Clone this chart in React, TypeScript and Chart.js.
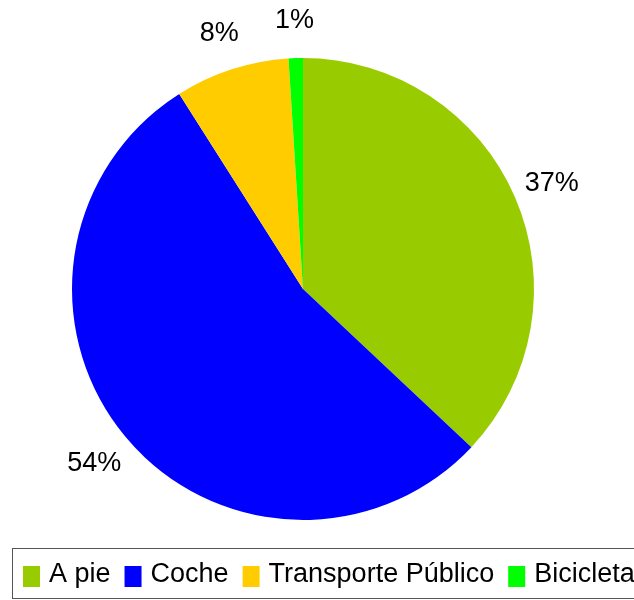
import React, { useEffect, useRef } from "react";
import { Chart, registerables } from "chart.js";

Chart.register(...registerables);

const categories = ["A pie", "Coche", "Transporte Público", "Bicicleta"];
const values = [37, 54, 8, 1];
const colors = ["#99cc00", "#0000ff", "#ffcc00", "#00ff00"];

const labelFont = '27px "Liberation Sans", Arial, sans-serif';
const legendFont = '27px "Liberation Sans", Arial, sans-serif';

const pctLabels = {
  id: "pctLabels",
  afterDatasetsDraw(chart: any) {
    const ctx = chart.ctx;
    const meta = chart.getDatasetMeta(0);
    const total = values.reduce((a, b) => a + b, 0);
    ctx.save();
    ctx.font = labelFont;
    ctx.fillStyle = "#000";
    ctx.textAlign = "center";
    ctx.textBaseline = "middle";
    meta.data.forEach((arc: any, i: number) => {
      const { x, y, startAngle, endAngle, outerRadius } = arc.getProps(
        ["x", "y", "startAngle", "endAngle", "outerRadius"],
        true
      );
      const mid = (startAngle + endAngle) / 2;
      const r = outerRadius + 40;
      const pct = Math.round((values[i] / total) * 100);
      ctx.fillText(pct + "%", x + Math.cos(mid) * r, y + Math.sin(mid) * r + 2);
    });
    ctx.restore();
  },
};

const boxLegend = {
  id: "boxLegend",
  afterDraw(chart: any) {
    const ctx = chart.ctx;
    ctx.save();
    ctx.strokeStyle = "#555";
    ctx.lineWidth = 1;
    ctx.strokeRect(12.5, 548.5, 640, 50);
    ctx.font = legendFont;
    ctx.textBaseline = "alphabetic";
    ctx.textAlign = "left";
    let x = 23;
    categories.forEach((c, i) => {
      ctx.fillStyle = colors[i];
      ctx.fillRect(x, 566, 17, 21);
      ctx.fillStyle = "#000";
      ctx.fillText(c, x + 26, 582);
      x += 26 + ctx.measureText(c).width + 14;
    });
    ctx.restore();
  },
};

export default function App() {
  const ref = useRef<HTMLCanvasElement>(null);
  useEffect(() => {
    if (!ref.current) return;
    const chart = new Chart(ref.current, {
      type: "pie",
      data: {
        labels: categories,
        datasets: [
          {
            data: values,
            backgroundColor: colors,
            borderWidth: 0,
          },
        ],
      },
      options: {
        responsive: false,
        animation: false,
        layout: { padding: { left: 72, right: 100, top: 58, bottom: 80 } },
        plugins: {
          legend: { display: false },
          tooltip: { enabled: false },
        },
      },
      plugins: [pctLabels, boxLegend],
    });
    return () => chart.destroy();
  }, []);
  return (
    <div style={{ position: "fixed", left: 0, top: 0, width: 634, height: 600, background: "#fff" }}>
      <canvas ref={ref} width={634} height={600} />
    </div>
  );
}
